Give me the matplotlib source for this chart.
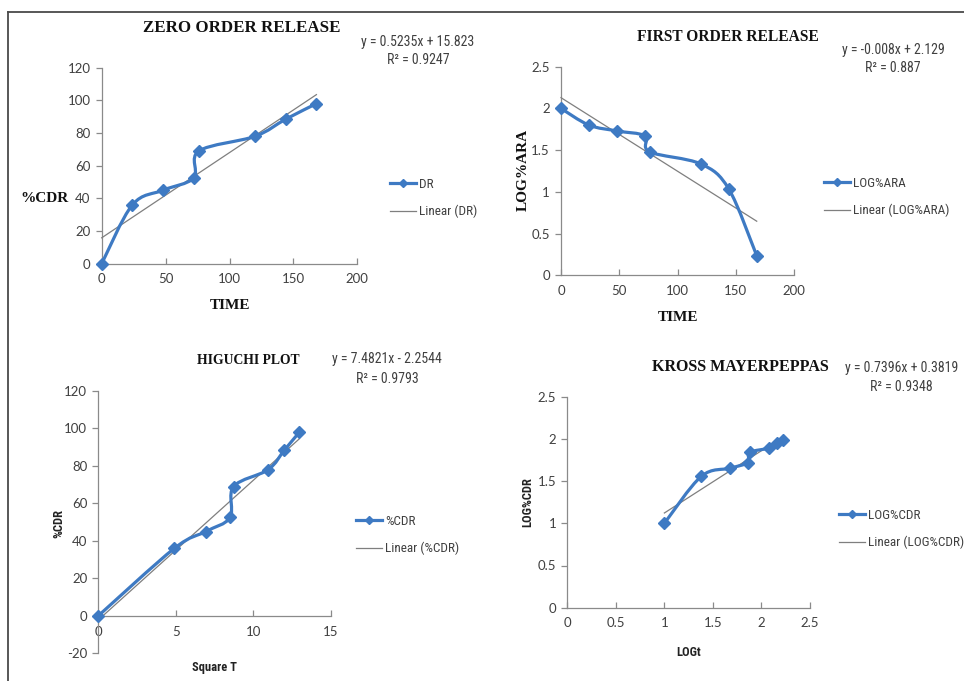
import numpy as np
import matplotlib
matplotlib.use("Agg")
import matplotlib.pyplot as plt
from matplotlib.path import Path
from matplotlib.patches import PathPatch
from matplotlib.lines import Line2D
from matplotlib import font_manager
from matplotlib.font_manager import FontProperties

# ---------------- data ----------------
time_h = [0, 24, 48, 72, 76, 120, 144, 168]
cdr = [0, 36, 45, 52.5, 69, 78, 88.5, 98]
log_ara = [2.0, 1.80, 1.73, 1.67, 1.48, 1.335, 1.035, 0.235]
sqrt_t = [0, 4.9, 6.93, 8.49, 8.72, 10.95, 12.0, 12.96]
log_t = [1.0, 1.38, 1.68, 1.857, 1.88, 2.08, 2.158, 2.225]
log_cdr = [1.0, 1.556, 1.653, 1.72, 1.839, 1.892, 1.947, 1.991]

titles = ["ZERO ORDER RELEASE", "FIRST ORDER RELEASE", "HIGUCHI PLOT", "KROSS MAYERPEPPAS"]
equations = [("y = 0.5235x + 15.823", "R² = 0.9247"),
             ("y = -0.008x + 2.129", "R² = 0.887"),
             ("y = 7.4821x - 2.2544", "R² = 0.9793"),
             ("y = 0.7396x + 0.3819", "R² = 0.9348")]
series_names = ["DR", "LOG%ARA", "%CDR", "LOG%CDR"]
xlabels = ["TIME", "TIME", "Square T", "LOGt"]
ylabels = ["%CDR", "LOG%ARA", "%CDR", "LOG%CDR"]
xticks_list = [[0, 50, 100, 150, 200], [0, 50, 100, 150, 200], [0, 5, 10, 15],
               [0, 0.5, 1, 1.5, 2, 2.5]]
yticks_list = [[0, 20, 40, 60, 80, 100, 120], [0, 0.5, 1, 1.5, 2, 2.5],
               [-20, 0, 20, 40, 60, 80, 100, 120], [0, 0.5, 1, 1.5, 2, 2.5]]

W, H = 964, 681
fig = plt.figure(figsize=(W / 100, H / 100), dpi=100)
fig.patch.set_facecolor("white")

BLUE = "#3E7AC3"
GRAY = "#7f7f7f"
AX = "#8a8a8a"
TXT = "#404040"
SERIF = "Liberation Serif"

# pick a narrow sans (Calibri-like width) if one is installed
_fl = font_manager.fontManager.ttflist
_names = {f.name for f in _fl}
NARROW_FAM, NARROW_STRETCH, NSIZE = "Lato", "normal", 8.8
for cand in ["Liberation Sans Narrow", "Roboto Condensed", "Open Sans Condensed",
             "DejaVu Sans Condensed"]:
    if cand in _names:
        NARROW_FAM, NARROW_STRETCH, NSIZE = cand, "normal", 10
        break
else:
    for f in _fl:
        if f.name in ("DejaVu Sans", "Roboto", "Open Sans", "Noto Sans") and \
                str(f.stretch) in ("condensed", "semi-condensed"):
            NARROW_FAM, NARROW_STRETCH, NSIZE = f.name, str(f.stretch), 9.6
            break
LSIZE = NSIZE * 0.95


def nfp(size=None, weight="normal"):
    return FontProperties(family=NARROW_FAM, stretch=NARROW_STRETCH,
                          size=size or NSIZE, weight=weight)


TICKF = "Lato"


def px_rect(l, r, t, b):
    return [l / W, 1 - b / H, (r - l) / W, (b - t) / H]


def fx(x):
    return x / W


def fy(y):
    return 1 - y / H


def smooth_path(x, y):
    pts = np.column_stack([x, y]).astype(float)
    n = len(pts)
    verts = [pts[0]]
    codes = [Path.MOVETO]
    for i in range(n - 1):
        p0 = pts[max(i - 1, 0)]
        p1 = pts[i]
        p2 = pts[i + 1]
        p3 = pts[min(i + 2, n - 1)]
        c1 = p1 + (p2 - p0) / 6.0
        c2 = p2 - (p3 - p1) / 6.0
        verts += [c1, c2, p2]
        codes += [Path.CURVE4] * 3
    return Path(verts, codes)


def style_axes(ax, xt, yt, xlim, ylim, xaxis_at_zero=False):
    for s in ["top", "right"]:
        ax.spines[s].set_visible(False)
    for s in ["left", "bottom"]:
        ax.spines[s].set_color(AX)
        ax.spines[s].set_linewidth(0.9)
    if xaxis_at_zero:
        ax.spines["bottom"].set_position(("data", 0))
    ax.set_xlim(*xlim)
    ax.set_ylim(*ylim)
    ax.set_xticks(xt)
    ax.set_yticks(yt)
    ax.set_xticklabels([f"{v:g}" for v in xt])
    ax.set_yticklabels([f"{v:g}" for v in yt])
    ax.tick_params(axis="x", direction="in", length=4, width=0.9, color=AX,
                   pad=7, labelsize=9.5, labelcolor=TXT)
    ax.tick_params(axis="y", direction="out", length=4, width=0.9, color=AX,
                   pad=4, labelsize=9.5, labelcolor=TXT)
    for lab in ax.get_xticklabels() + ax.get_yticklabels():
        lab.set_fontfamily(TICKF)
    ax.patch.set_alpha(0)


panels = [
    dict(rect=(101.7, 357.3, 67.7, 263.7), x=time_h, y=cdr, xlim=(0, 200), ylim=(0, 120)),
    dict(rect=(561, 794, 66.7, 275.3), x=time_h, y=log_ara, xlim=(0, 200), ylim=(0, 2.5)),
    dict(rect=(98.3, 331, 391, 653.3), x=sqrt_t, y=cdr, xlim=(0, 15), ylim=(-20, 120)),
    dict(rect=(567.3, 810, 396.7, 607.7), x=log_t, y=log_cdr, xlim=(0, 2.5), ylim=(0, 2.5)),
]

title_pos = [(242, 28), (728, 37), (248, 360), (740.7, 366.7)]
title_size = [12.2, 11.2, 9.8, 11.5]
eq_pos = [(418, 42, 60), (893, 50, 68), (387, 359, 379), (901.7, 368, 386.7)]
legend_pos = [(390, 198), (824, 197), (356, 535), (839, 529)]
xlabel_pos = [(230, 306), (678, 317), (215, 668), (689, 652)]
ylabel_pos = [(44, 198, 0), (523, 170, 90), (59, 523, 90), (527.7, 502, 90)]
label_serif = [True, True, False, False]

for i, p in enumerate(panels):
    ax = fig.add_axes(px_rect(*p["rect"]))
    style_axes(ax, xticks_list[i], yticks_list[i], p["xlim"], p["ylim"],
               xaxis_at_zero=(i == 2))
    x = np.array(p["x"], dtype=float)
    y = np.array(p["y"], dtype=float)
    # linear trendline
    k, b = np.polyfit(x, y, 1)
    xs = np.array([x.min(), x.max()])
    ax.plot(xs, k * xs + b, color=GRAY, lw=0.9, zorder=3, clip_on=False)
    # smoothed series
    patch = PathPatch(smooth_path(x, y), facecolor="none", edgecolor=BLUE,
                      lw=2.3, zorder=4, transform=ax.transData, clip_on=False,
                      capstyle="round", joinstyle="round")
    ax.add_patch(patch)
    ax.plot(x, y, linestyle="none", marker="D", markersize=6.5, color=BLUE,
            zorder=5, clip_on=False)

    handles = [Line2D([], [], color=BLUE, lw=2.3, marker="D", markersize=4.5),
               Line2D([], [], color=GRAY, lw=0.9)]
    lx, ly = legend_pos[i]
    leg = fig.legend(handles, [series_names[i], f"Linear ({series_names[i]})"],
                     loc="center left", bbox_to_anchor=(fx(lx), fy(ly)),
                     frameon=False, borderpad=0, borderaxespad=0,
                     handlelength=19.0 / LSIZE, handletextpad=0.2,
                     labelspacing=1.1, prop=nfp(size=LSIZE))
    for t in leg.get_texts():
        t.set_color(TXT)

    tx, ty = title_pos[i]
    fig.text(fx(tx), fy(ty), titles[i], ha="center", va="center",
             fontfamily=SERIF, fontweight="bold", fontsize=title_size[i], color="#111111")
    ex, ey1, ey2 = eq_pos[i]
    fig.text(fx(ex), fy(ey1), equations[i][0], ha="center", va="center",
             fontproperties=nfp(), color=TXT)
    fig.text(fx(ex), fy(ey2), equations[i][1], ha="center", va="center",
             fontproperties=nfp(), color=TXT)

    xlx, xly = xlabel_pos[i]
    ylx, yly, rot = ylabel_pos[i]
    if label_serif[i]:
        kw = dict(fontfamily=SERIF, fontweight="bold", fontsize=11, color="#111111")
    else:
        kw = dict(fontproperties=nfp(size=NSIZE * 0.9, weight="bold"), color="#222222")
    fig.text(fx(xlx), fy(xly), xlabels[i], ha="center", va="center", **kw)
    fig.text(fx(ylx), fy(yly), ylabels[i], ha="center", va="center", rotation=rot, **kw)

# outer frame (top and left edges)
fig.add_artist(Line2D([fx(8), 1.0], [fy(12), fy(12)], color="#4a4a4a", lw=1.3,
                      transform=fig.transFigure))
fig.add_artist(Line2D([fx(8), fx(8)], [fy(12), 0.0], color="#4a4a4a", lw=1.3,
                      transform=fig.transFigure))

fig.savefig("out.png", dpi=100)
